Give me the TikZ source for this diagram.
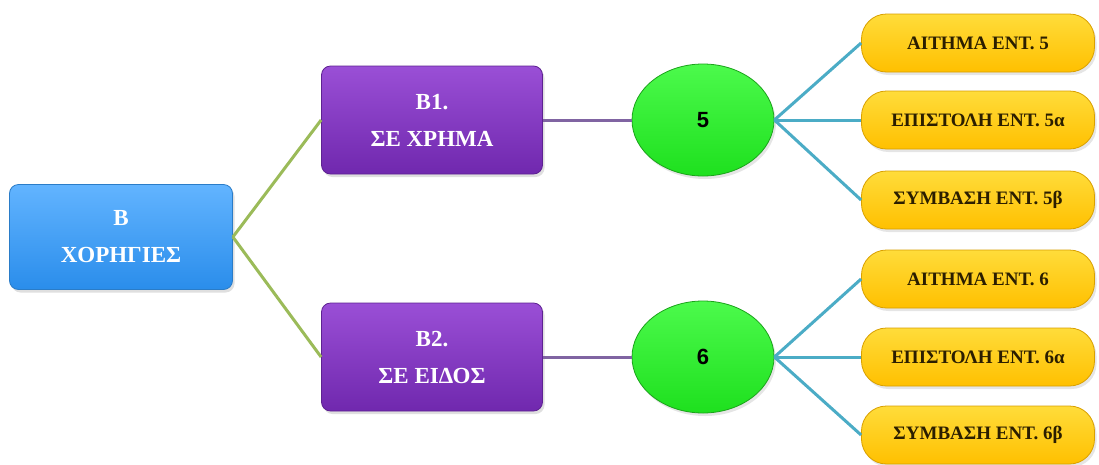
\documentclass[tikz,border=0pt]{standalone}
\usepackage{fontspec}
\setmainfont{Liberation Serif}
\newfontfamily\numfont{Liberation Sans}
\usetikzlibrary{shadows,shapes.geometric}
\definecolor{blueA}{HTML}{62B4FF}
\definecolor{blueB}{HTML}{2A8DEB}
\definecolor{blueD}{HTML}{2A7CC8}
\definecolor{purA}{HTML}{9A4FD6}
\definecolor{purB}{HTML}{7028AE}
\definecolor{purD}{HTML}{5E2292}
\definecolor{grnA}{HTML}{4CFA4C}
\definecolor{grnB}{HTML}{1EE01E}
\definecolor{grnD}{HTML}{1BA31B}
\definecolor{yelA}{HTML}{FFDC3A}
\definecolor{yelB}{HTML}{FFC000}
\definecolor{yelD}{HTML}{D9A000}
\definecolor{lineG}{HTML}{9BBB59}
\definecolor{lineP}{HTML}{8064A2}
\definecolor{lineT}{HTML}{4BACC6}
\definecolor{pilltext}{HTML}{2B1E00}
\begin{document}
\begin{tikzpicture}[x=1pt,y=-1pt,
  rootbox/.style={rectangle, rounded corners=9pt, minimum width=223pt, minimum height=105pt,
    inner sep=0pt, draw=blueD, line width=0.8pt, top color=blueA, bottom color=blueB,
    text=white, align=center, font=\bfseries\fontsize{23}{37}\selectfont,
    drop shadow={opacity=0.25, shadow xshift=2pt, shadow yshift=-3pt}},
  midbox/.style={rectangle, rounded corners=9pt, minimum width=221pt, minimum height=108pt,
    inner sep=0pt, draw=purD, line width=0.8pt, top color=purA, bottom color=purB,
    text=white, align=center, font=\bfseries\fontsize{23}{37}\selectfont,
    drop shadow={opacity=0.25, shadow xshift=2pt, shadow yshift=-3pt}},
  numell/.style={ellipse, minimum width=142pt, minimum height=112pt, inner sep=0pt,
    draw=grnD, line width=0.8pt, top color=grnA, bottom color=grnB,
    text=black, font=\numfont\bfseries\fontsize{22}{26}\selectfont,
    drop shadow={opacity=0.2, shadow xshift=2pt, shadow yshift=-3pt}},
  pill/.style={rectangle, rounded corners=25pt, minimum width=233pt, minimum height=58pt,
    inner sep=0pt, draw=yelD, line width=0.8pt, top color=yelA, bottom color=yelB,
    text=pilltext, font=\bfseries\fontsize{19}{22}\selectfont,
    drop shadow={opacity=0.2, shadow xshift=2pt, shadow yshift=-3pt}},
  linkG/.style={draw=lineG, line width=3pt},
  linkP/.style={draw=lineP, line width=3pt},
  linkT/.style={draw=lineT, line width=3pt}
]
\useasboundingbox (0,0) rectangle (1099,464);
\fill[white] (0,0) rectangle (1099,464);

\node[rootbox] (root) at (121,237) {Β\\ΧΟΡΗΓΙΕΣ};
\node[midbox] (b1) at (432,120) {Β1.\\ΣΕ ΧΡΗΜΑ};
\node[midbox] (b2) at (432,357) {Β2.\\ΣΕ ΕΙΔΟΣ};
\node[numell] (n5) at (703,120) {5};
\node[numell] (n6) at (703,357) {6};

\node[pill] (p51) at (978,43) {ΑΙΤΗΜΑ ΕΝΤ. 5};
\node[pill] (p52) at (978,120) {ΕΠΙΣΤΟΛΗ ΕΝΤ. 5α};
\node[pill] (p53) at (978,200) {ΣΥΜΒΑΣΗ ΕΝΤ. 5β};
\node[pill] (p61) at (978,279) {ΑΙΤΗΜΑ ΕΝΤ. 6};
\node[pill] (p62) at (978,357) {ΕΠΙΣΤΟΛΗ ΕΝΤ. 6α};
\node[pill] (p63) at (978,435) {ΣΥΜΒΑΣΗ ΕΝΤ. 6β};

\path[linkG] (root.east) -- (b1.west);
\path[linkG] (root.east) -- (b2.west);
\path[linkP] (b1.east) -- (n5.west);
\path[linkP] (b2.east) -- (n6.west);
\path[linkT] (n5.east) -- (p51.west);
\path[linkT] (n5.east) -- (p52.west);
\path[linkT] (n5.east) -- (p53.west);
\path[linkT] (n6.east) -- (p61.west);
\path[linkT] (n6.east) -- (p62.west);
\path[linkT] (n6.east) -- (p63.west);
\end{tikzpicture}
\end{document}
